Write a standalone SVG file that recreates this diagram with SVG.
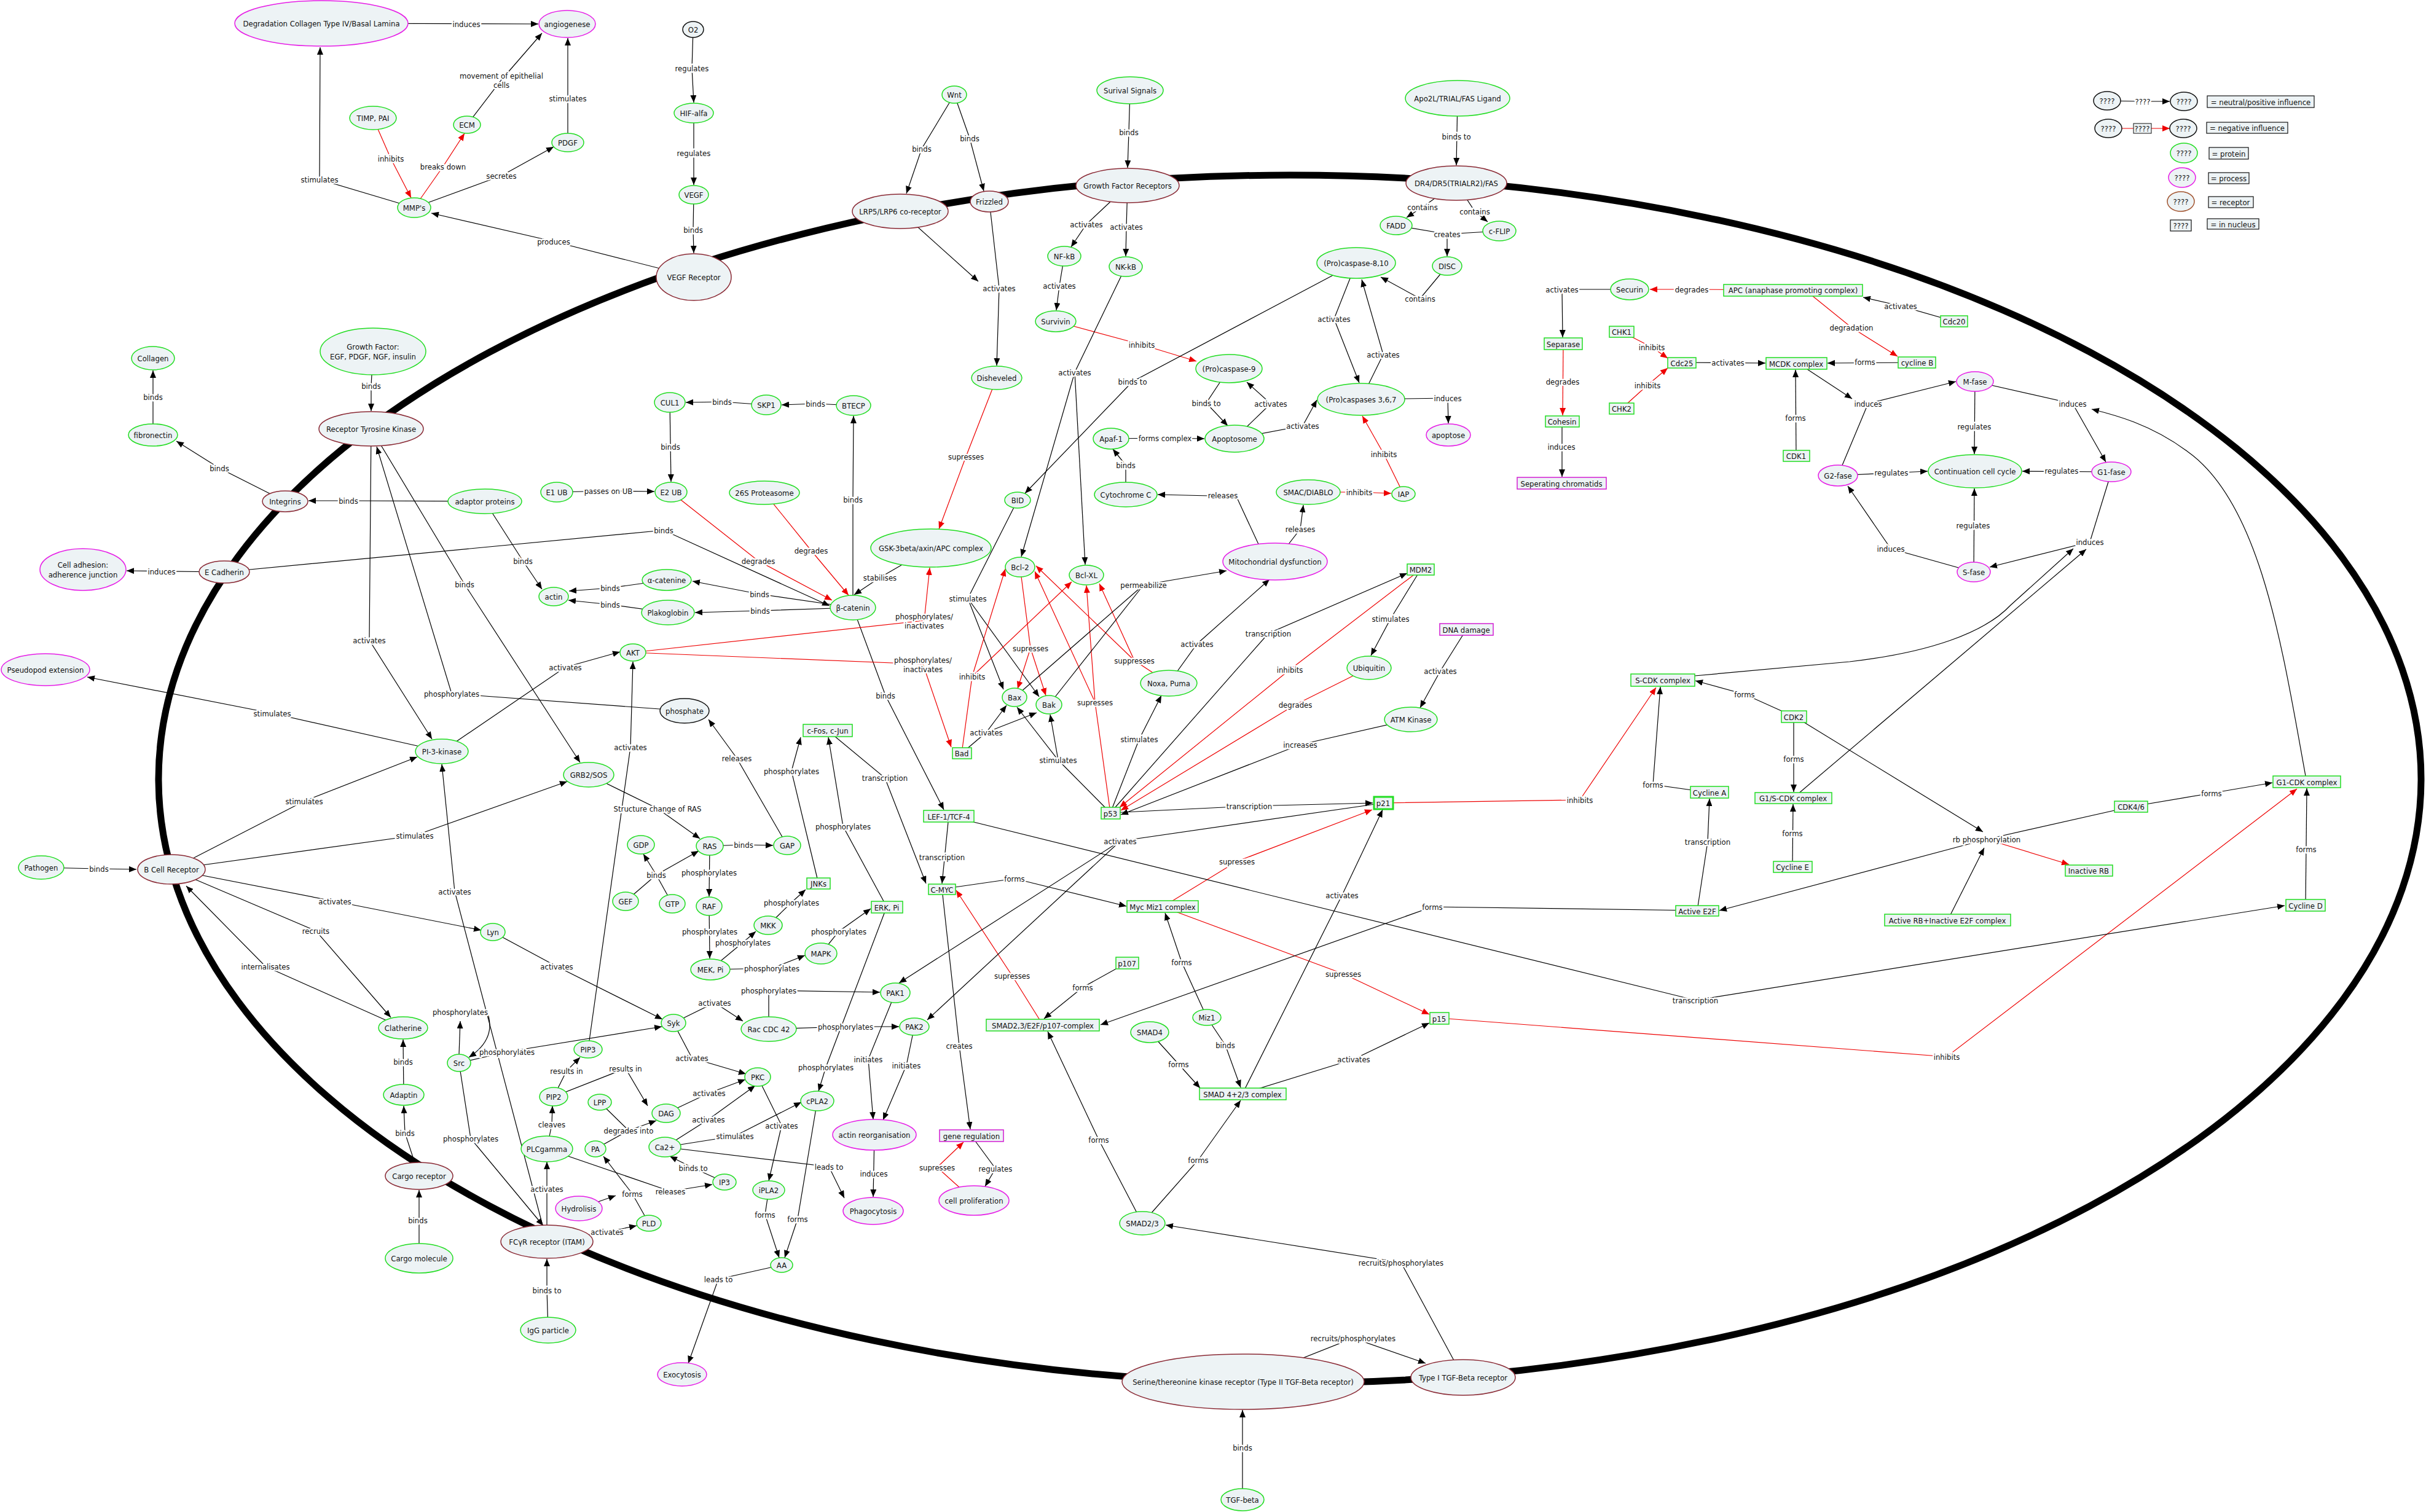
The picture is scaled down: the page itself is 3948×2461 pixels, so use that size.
<svg xmlns="http://www.w3.org/2000/svg" width="3948" height="2461" viewBox="0 0 3948 2461">
<style>
.c{fill:none;stroke:#000;stroke-width:1.2}
.ca{fill:none;stroke:#000;stroke-width:1.2;marker-end:url(#a)}
.r{fill:none;stroke:#e00;stroke-width:1.2}
.ra{fill:none;stroke:#e00;stroke-width:1.2;marker-end:url(#ar)}
.l,.t{font-family:'DejaVu Sans Condensed','DejaVu Sans',sans-serif;font-size:13px;text-anchor:middle;dominant-baseline:central;fill:#111}
.l{stroke:#fff;stroke-width:5px;paint-order:stroke;stroke-linejoin:round}
.g{fill:#edf3f5;stroke:#22dd22;stroke-width:1.5}
.m{fill:#edf3f5;stroke:#e61ee6;stroke-width:1.5}
.p{fill:#edf3f5;stroke:#8a2a35;stroke-width:1.5}
.k{fill:#edf3f5;stroke:#111;stroke-width:1.5}
.n{fill:#edf3f5;stroke:#22dd22;stroke-width:1.5}
.nm{fill:#edf3f5;stroke:#d21ed2;stroke-width:1.5}
.lg{fill:#edf3f5;stroke:#111;stroke-width:1.2}
</style>
<defs>
<marker id="a" viewBox="0 0 12 10" refX="12" refY="5" markerWidth="12" markerHeight="10" markerUnits="userSpaceOnUse" orient="auto"><path d="M0,0 L12,5 L0,10 z" fill="#000"/></marker>
<marker id="ar" viewBox="0 0 12 10" refX="12" refY="5" markerWidth="12" markerHeight="10" markerUnits="userSpaceOnUse" orient="auto"><path d="M0,0 L12,5 L0,10 z" fill="#e00"/></marker>
</defs>
<rect width="3948" height="2461" fill="#fff"/>
<g id="membrane"><ellipse cx="2099" cy="1268" rx="1841" ry="983" fill="none" stroke="#000" stroke-width="11"/></g>
<g id="connectors">
<path class="ca" d="M674,338 L520,292 L521,77"/>
<path class="ra" d="M607,192 L636,258 L669,322"/>
<path class="ra" d="M674,338 L721,271 L756,217"/>
<path class="ca" d="M674,338 L816,286 L901,239"/>
<path class="ca" d="M760,203 L816,130 L882,54"/>
<path class="ca" d="M924,232 L924,62"/>
<path class="ca" d="M523,38 L876,39"/>
<path class="ca" d="M1129,451 L901,393 L702,347"/>
<path class="ca" d="M1128,48 L1126,111 L1129,167"/>
<path class="ca" d="M1129,184 L1129,301"/>
<path class="ca" d="M1129,317 L1128,374 L1129,412"/>
<path class="ca" d="M1553,154 L1500,242 L1475,315"/>
<path class="ca" d="M1553,154 L1578,225 L1601,311"/>
<path class="ca" d="M1465,344 L1592,458"/>
<path class="ca" d="M1610,328 L1626,469 L1622,595"/>
<path class="ca" d="M1839,147 L1837,215 L1835,273"/>
<path class="ca" d="M1835,302 L1768,365 L1743,402"/>
<path class="ca" d="M1835,302 L1833,369 L1832,417"/>
<path class="ca" d="M1732,417 L1724,465 L1719,505"/>
<path class="ra" d="M1718,523 L1858,561 L1947,588"/>
<path class="ca" d="M1832,434 L1749,606 L1662,906"/>
<path class="ca" d="M1749,606 L1766,919"/>
<path class="ca" d="M2372,160 L2370,269"/>
<path class="ca" d="M2370,298 L2315,337 L2289,354"/>
<path class="ca" d="M2370,298 L2400,344 L2421,361"/>
<path class="c" d="M2272,367 L2355,381"/>
<path class="ca" d="M2440,376 L2355,381 L2355,417"/>
<path class="ca" d="M2355,433 L2311,486 L2247,451"/>
<path class="ca" d="M2207,428 L2171,519 L2212,623"/>
<path class="ca" d="M2215,650 L2251,577 L2216,455"/>
<path class="ca" d="M2215,650 L2356,648 L2357,689"/>
<path class="ra" d="M2284,804 L2252,739 L2217,677"/>
<path class="ra" d="M2129,801 L2212,801 L2264,803"/>
<path class="ca" d="M2207,428 L1843,621 L1668,803"/>
<path class="ca" d="M2000,600 L1963,656 L1998,693"/>
<path class="ca" d="M2009,714 L2068,657 L2029,622"/>
<path class="ca" d="M2009,714 L2120,693 L2143,651"/>
<path class="ca" d="M1808,714 L1896,713 L1960,714"/>
<path class="ca" d="M1832,805 L1832,757 L1811,731"/>
<path class="ca" d="M2050,890 L2012,808 L1884,805"/>
<path class="ca" d="M2075,914 L2116,861 L2121,822"/>
<path class="ra" d="M1622,615 L1572,743 L1528,861"/>
<path class="ca" d="M1515,892 L1432,940 L1390,968"/>
<path class="ra" d="M1092,801 L1234,913 L1354,977"/>
<path class="ra" d="M1244,802 L1320,896 L1381,969"/>
<path class="ca" d="M365,931 L1080,863 L1350,986"/>
<path class="ca" d="M1388,989 L1236,967 L1127,946"/>
<path class="ca" d="M1388,989 L1237,994 L1131,997"/>
<path class="ca" d="M1085,944 L993,957 L926,962"/>
<path class="ca" d="M1087,997 L993,984 L925,977"/>
<path class="ca" d="M789,816 L851,913 L882,959"/>
<path class="ca" d="M789,816 L567,815 L502,815"/>
<path class="ca" d="M464,816 L357,762 L287,718"/>
<path class="ca" d="M249,708 L249,603"/>
<path class="ca" d="M607,572 L604,628 L604,669"/>
<path class="ca" d="M604,698 L601,1042 L703,1203"/>
<path class="ca" d="M1114,1157 L735,1129 L613,727"/>
<path class="ca" d="M604,698 L756,951 L944,1241"/>
<path class="ca" d="M365,931 L206,929"/>
<path class="ca" d="M719,1223 L443,1161 L142,1102"/>
<path class="ca" d="M719,1223 L920,1086 L1009,1061"/>
<path class="ca" d="M279,1415 L495,1304 L679,1232"/>
<path class="ca" d="M279,1415 L675,1360 L923,1272"/>
<path class="ca" d="M67,1412 L161,1414 L222,1415"/>
<path class="ca" d="M279,1415 L545,1467 L783,1514"/>
<path class="ca" d="M279,1415 L514,1515 L636,1656"/>
<path class="ca" d="M656,1673 L432,1573 L303,1442"/>
<path class="ca" d="M802,1517 L906,1573 L1078,1659"/>
<path class="ca" d="M957,1708 L1026,1216 L1030,1077"/>
<path class="ca" d="M747,1730 L825,1712 L1077,1671"/>
<path class="ca" d="M747,1716 L749,1662"/>
<path class="ca" d="M792,1645 Q810,1690 763,1721"/>
<path class="ca" d="M747,1730 L766,1853 L884,1995"/>
<path class="ca" d="M890,2021 L740,1451 L719,1244"/>
<path class="ca" d="M890,2021 L890,1891"/>
<path class="ca" d="M890,1870 L898,1830 L899,1800"/>
<path class="ca" d="M901,1785 L922,1743 L944,1721"/>
<path class="ca" d="M901,1785 L1018,1739 L1054,1800"/>
<path class="ca" d="M682,2048 L682,1937"/>
<path class="ca" d="M682,1914 L659,1844 L657,1800"/>
<path class="ca" d="M657,1782 L656,1692"/>
<path class="ca" d="M892,2165 L890,2100 L890,2049"/>
<path class="ca" d="M890,2021 L988,2005 L1036,1995"/>
<path class="ca" d="M1056,1991 L1029,1943 L982,1882"/>
<path class="ca" d="M942,1967 L1002,1946"/>
<path class="c" d="M976,1794 L1023,1840"/>
<path class="c" d="M969,1870 L1023,1840"/>
<path class="ca" d="M1023,1840 L1068,1824"/>
<path class="ca" d="M890,1870 L1091,1939 L1159,1928"/>
<path class="ca" d="M1179,1924 L1128,1901 L1090,1882"/>
<path class="ca" d="M1084,1812 L1154,1779 L1213,1757"/>
<path class="ca" d="M1082,1867 L1153,1822 L1229,1767"/>
<path class="ca" d="M1082,1867 L1196,1849 L1304,1794"/>
<path class="ca" d="M1233,1753 L1272,1832 L1251,1922"/>
<path class="ca" d="M1082,1867 L1349,1899 L1374,1950"/>
<path class="ca" d="M1251,1937 L1245,1977 L1268,2047"/>
<path class="ca" d="M1330,1792 L1298,1984 L1277,2047"/>
<path class="ca" d="M1272,2059 L1169,2082 L1120,2219"/>
<path class="ca" d="M1096,1665 L1126,1722 L1214,1748"/>
<path class="ca" d="M1096,1665 L1163,1632 L1209,1662"/>
<path class="ca" d="M1251,1675 L1251,1612 L1432,1615"/>
<path class="ca" d="M1251,1675 L1376,1671 L1463,1671"/>
<path class="ca" d="M1443,1476 L1344,1737 L1332,1776"/>
<path class="ca" d="M1457,1616 L1413,1724 L1421,1822"/>
<path class="ca" d="M1488,1671 L1475,1734 L1437,1823"/>
<path class="ca" d="M1423,1847 L1421,1948"/>
<path class="ca" d="M1533,1447 L1561,1702 L1579,1838"/>
<path class="ra" d="M1585,1954 L1525,1900 L1568,1859"/>
<path class="ca" d="M1581,1849 L1620,1902 L1603,1931"/>
<path class="ca" d="M958,1261 L1070,1316 L1139,1365"/>
<path class="ca" d="M1155,1377 L1210,1375 L1258,1376"/>
<path class="ca" d="M1281,1376 L1199,1234 L1153,1171"/>
<path class="c" d="M1018,1467 L1068,1424"/>
<path class="c" d="M1094,1471 L1068,1424"/>
<path class="ca" d="M1068,1424 L1047,1390"/>
<path class="ca" d="M1068,1424 L1137,1385"/>
<path class="ca" d="M1155,1377 L1154,1459"/>
<path class="ca" d="M1154,1475 L1155,1560"/>
<path class="ca" d="M1156,1578 L1209,1534 L1230,1516"/>
<path class="ca" d="M1250,1506 L1288,1469 L1311,1448"/>
<path class="ca" d="M1156,1578 L1256,1576 L1310,1555"/>
<path class="ca" d="M1336,1552 L1365,1516 L1417,1479"/>
<path class="ca" d="M1332,1438 L1288,1255 L1303,1200"/>
<path class="ca" d="M1443,1476 L1372,1345 L1348,1200"/>
<path class="ca" d="M1347,1189 L1440,1266 L1507,1438"/>
<path class="ca" d="M1388,989 L1441,1132 L1536,1318"/>
<path class="ca" d="M1544,1328 L1533,1438"/>
<path class="ca" d="M1533,1447 L1651,1430 L1833,1475"/>
<path class="ca" d="M1964,1656 L1923,1566 L1896,1486"/>
<path class="ca" d="M1834,1567 L1762,1607 L1699,1658"/>
<path class="ra" d="M1697,1668 L1647,1588 L1556,1449"/>
<path class="ra" d="M1030,1062 L1504,1010 L1513,924"/>
<path class="ra" d="M1030,1062 L1502,1081 L1548,1216"/>
<path class="ca" d="M1656,814 L1575,974 L1633,1122"/>
<path class="ca" d="M1575,974 L1691,1134"/>
<path class="ra" d="M1660,923 L1677,1055 L1656,1121"/>
<path class="ra" d="M1677,1055 L1702,1132"/>
<path class="ra" d="M1565,1226 L1582,1101 L1636,926"/>
<path class="ra" d="M1582,1101 L1744,947"/>
<path class="ca" d="M1565,1226 L1605,1192 L1638,1148"/>
<path class="ca" d="M1605,1192 L1687,1160"/>
<path class="ca" d="M1807,1323 L1722,1237 L1655,1151"/>
<path class="ca" d="M1722,1237 L1709,1163"/>
<path class="ra" d="M1807,1323 L1782,1143 L1768,953"/>
<path class="ra" d="M1782,1143 L1684,930"/>
<path class="ra" d="M1902,1112 L1846,1075 L1789,950"/>
<path class="ra" d="M1846,1075 L1686,921"/>
<path class="ca" d="M1807,1323 L1854,1203 L1890,1132"/>
<path class="c" d="M1651,1135 L1861,952"/>
<path class="c" d="M1707,1147 L1861,952"/>
<path class="ca" d="M1861,952 L1996,929"/>
<path class="ca" d="M1902,1112 L1948,1048 L2066,943"/>
<path class="ca" d="M1807,1323 L2064,1031 L2290,933"/>
<path class="ra" d="M2312,927 L2099,1090 L1822,1314"/>
<path class="ca" d="M2312,927 L2263,1007 L2231,1067"/>
<path class="ra" d="M2228,1087 L2108,1147 L1824,1319"/>
<path class="ca" d="M2386,1025 L2344,1092 L2311,1152"/>
<path class="ca" d="M2296,1171 L2116,1212 L1824,1326"/>
<path class="ca" d="M1807,1323 L2033,1312 L2234,1307"/>
<path class="ca" d="M2251,1307 L1823,1369 L1463,1600"/>
<path class="ca" d="M1823,1369 L1509,1660"/>
<path class="ra" d="M1892,1476 L2013,1402 L2233,1318"/>
<path class="ra" d="M1892,1476 L2186,1585 L2326,1651"/>
<path class="ca" d="M2022,1780 L2184,1457 L2250,1318"/>
<path class="ca" d="M2022,1780 L2203,1724 L2326,1665"/>
<path class="ra" d="M2342,1657 L3168,1720 L3738,1284"/>
<path class="ca" d="M1871,1680 L1918,1732 L1953,1771"/>
<path class="ca" d="M1859,1991 L1950,1888 L2019,1791"/>
<path class="ca" d="M1964,1656 L1994,1701 L2019,1770"/>
<path class="ca" d="M1859,1991 L1788,1855 L1705,1679"/>
<path class="ca" d="M2762,1482 L2331,1476 L1791,1668"/>
<path class="ca" d="M2023,2249 L2202,2178 L2320,2219"/>
<path class="ca" d="M2381,2242 L2280,2055 L1897,1994"/>
<path class="ca" d="M2022,2441 L2022,2295"/>
<path class="ca" d="M1544,1328 L2759,1628 L3718,1474"/>
<path class="ca" d="M2652,471 L2542,471 L2543,549"/>
<path class="ra" d="M2918,472 L2753,471 L2685,471"/>
<path class="ra" d="M2544,560 L2543,676"/>
<path class="ca" d="M2542,686 L2542,776"/>
<path class="ra" d="M2639,540 L2688,565 L2714,583"/>
<path class="ra" d="M2639,665 L2681,627 L2714,599"/>
<path class="ca" d="M2737,590 L2873,591"/>
<path class="ca" d="M2923,742 L2922,602"/>
<path class="ca" d="M3120,590 L2974,591"/>
<path class="ca" d="M3180,523 L3093,498 L3032,484"/>
<path class="ra" d="M2950,482 L3013,533 L3088,580"/>
<path class="ca" d="M2941,601 L3014,649"/>
<path class="c" d="M2991,774 L3040,657"/>
<path class="ca" d="M3040,657 L3183,621"/>
<path class="ca" d="M3214,621 L3213,739"/>
<path class="ca" d="M3214,621 L3373,657 L3427,752"/>
<path class="ca" d="M3752,1263 C3715,1060 3680,820 3560,735 C3500,690 3440,675 3404,666"/>
<path class="ca" d="M2991,774 L3137,767"/>
<path class="ca" d="M3436,768 L3291,767"/>
<path class="ca" d="M3212,931 L3213,795"/>
<path class="ca" d="M3212,931 L3077,893 L3007,791"/>
<path class="ca" d="M3436,768 L3401,882 L3238,923"/>
<path class="ca" d="M2758,1100 L3010,1077 C3140,1062 3230,1030 3272,985 L3374,893"/>
<path class="ca" d="M2918,1299 L3395,894"/>
<path class="ca" d="M2919,1166 L2839,1130 L2759,1108"/>
<path class="ca" d="M2919,1166 L2919,1289"/>
<path class="ca" d="M2917,1411 L2918,1309"/>
<path class="ca" d="M2782,1290 L2690,1277 L2702,1118"/>
<path class="ra" d="M2251,1307 L2571,1302 L2695,1119"/>
<path class="ca" d="M2762,1482 L2779,1370 L2782,1300"/>
<path class="ca" d="M2920,1166 L3227,1354"/>
<path class="ca" d="M3170,1497 L3229,1380"/>
<path class="c" d="M3468,1313 L3233,1366"/>
<path class="ra" d="M3233,1366 L3367,1407"/>
<path class="ca" d="M3233,1366 L2798,1482"/>
<path class="ca" d="M3468,1313 L3599,1291 L3698,1274"/>
<path class="ca" d="M3752,1474 L3754,1283"/>
<path class="ca" d="M906,801 L990,799 L1065,800"/>
<path class="ca" d="M1090,655 L1092,784"/>
<path class="ca" d="M1247,659 L1175,654 L1116,655"/>
<path class="ca" d="M1389,660 L1327,657 L1272,659"/>
<path class="ca" d="M1388,989 L1388,813 L1389,677"/>
<path class="c" d="M3429,164 L3487,165"/>
<path class="ca" d="M3487,165 L3531,165"/>
<path class="r" d="M3431,209 L3486,209"/>
<path class="ra" d="M3486,209 L3531,209"/>
</g>
<g id="labels">
<text class="l" x="520" y="292">stimulates</text>
<text class="l" x="636" y="258">inhibits</text>
<text class="l" x="721" y="271">breaks down</text>
<text class="l" x="816" y="286">secretes</text>
<text class="l" x="816" y="123">movement of epithelial</text>
<text class="l" x="816" y="138">cells</text>
<text class="l" x="924" y="160">stimulates</text>
<text class="l" x="759" y="39">induces</text>
<text class="l" x="901" y="393">produces</text>
<text class="l" x="1126" y="111">regulates</text>
<text class="l" x="1129" y="249">regulates</text>
<text class="l" x="1128" y="374">binds</text>
<text class="l" x="1500" y="242">binds</text>
<text class="l" x="1578" y="225">binds</text>
<text class="l" x="1626" y="469">activates</text>
<text class="l" x="1837" y="215">binds</text>
<text class="l" x="1768" y="365">activates</text>
<text class="l" x="1833" y="369">activates</text>
<text class="l" x="1724" y="465">activates</text>
<text class="l" x="1858" y="561">inhibits</text>
<text class="l" x="1749" y="606">activates</text>
<text class="l" x="2370" y="222">binds to</text>
<text class="l" x="2315" y="337">contains</text>
<text class="l" x="2400" y="344">contains</text>
<text class="l" x="2355" y="381">creates</text>
<text class="l" x="2311" y="486">contains</text>
<text class="l" x="2171" y="519">activates</text>
<text class="l" x="2251" y="577">activates</text>
<text class="l" x="2356" y="648">induces</text>
<text class="l" x="2252" y="739">inhibits</text>
<text class="l" x="2212" y="801">inhibits</text>
<text class="l" x="1843" y="621">binds to</text>
<text class="l" x="1963" y="656">binds to</text>
<text class="l" x="2068" y="657">activates</text>
<text class="l" x="2120" y="693">activates</text>
<text class="l" x="1896" y="713">forms complex</text>
<text class="l" x="1832" y="757">binds</text>
<text class="l" x="1990" y="806">releases</text>
<text class="l" x="2116" y="861">releases</text>
<text class="l" x="1572" y="743">supresses</text>
<text class="l" x="1432" y="940">stabilises</text>
<text class="l" x="1234" y="913">degrades</text>
<text class="l" x="1320" y="896">degrades</text>
<text class="l" x="1080" y="863">binds</text>
<text class="l" x="1236" y="967">binds</text>
<text class="l" x="1237" y="994">binds</text>
<text class="l" x="993" y="957">binds</text>
<text class="l" x="993" y="984">binds</text>
<text class="l" x="851" y="913">binds</text>
<text class="l" x="567" y="815">binds</text>
<text class="l" x="357" y="762">binds</text>
<text class="l" x="249" y="646">binds</text>
<text class="l" x="604" y="628">binds</text>
<text class="l" x="601" y="1042">activates</text>
<text class="l" x="735" y="1129">phosphorylates</text>
<text class="l" x="756" y="951">binds</text>
<text class="l" x="263" y="930">induces</text>
<text class="l" x="443" y="1161">stimulates</text>
<text class="l" x="920" y="1086">activates</text>
<text class="l" x="495" y="1304">stimulates</text>
<text class="l" x="675" y="1360">stimulates</text>
<text class="l" x="161" y="1414">binds</text>
<text class="l" x="545" y="1467">activates</text>
<text class="l" x="514" y="1515">recruits</text>
<text class="l" x="432" y="1573">internalisates</text>
<text class="l" x="906" y="1573">activates</text>
<text class="l" x="1026" y="1216">activates</text>
<text class="l" x="825" y="1712">phosphorylates</text>
<text class="l" x="749" y="1647">phosphorylates</text>
<text class="l" x="766" y="1853">phosphorylates</text>
<text class="l" x="740" y="1451">activates</text>
<text class="l" x="890" y="1935">activates</text>
<text class="l" x="898" y="1830">cleaves</text>
<text class="l" x="922" y="1743">results in</text>
<text class="l" x="1018" y="1739">results in</text>
<text class="l" x="680" y="1986">binds</text>
<text class="l" x="659" y="1844">binds</text>
<text class="l" x="656" y="1728">binds</text>
<text class="l" x="890" y="2100">binds to</text>
<text class="l" x="988" y="2005">activates</text>
<text class="l" x="1029" y="1943">forms</text>
<text class="l" x="1023" y="1840">degrades into</text>
<text class="l" x="1091" y="1939">releases</text>
<text class="l" x="1128" y="1901">binds to</text>
<text class="l" x="1154" y="1779">activates</text>
<text class="l" x="1153" y="1822">activates</text>
<text class="l" x="1196" y="1849">stimulates</text>
<text class="l" x="1272" y="1832">activates</text>
<text class="l" x="1349" y="1899">leads to</text>
<text class="l" x="1245" y="1977">forms</text>
<text class="l" x="1298" y="1984">forms</text>
<text class="l" x="1169" y="2082">leads to</text>
<text class="l" x="1126" y="1722">activates</text>
<text class="l" x="1163" y="1632">activates</text>
<text class="l" x="1251" y="1612">phosphorylates</text>
<text class="l" x="1376" y="1671">phosphorylates</text>
<text class="l" x="1344" y="1737">phosphorylates</text>
<text class="l" x="1413" y="1724">initiates</text>
<text class="l" x="1475" y="1734">initiates</text>
<text class="l" x="1422" y="1910">induces</text>
<text class="l" x="1561" y="1702">creates</text>
<text class="l" x="1525" y="1900">supresses</text>
<text class="l" x="1620" y="1902">regulates</text>
<text class="l" x="1070" y="1316">Structure change of RAS</text>
<text class="l" x="1210" y="1375">binds</text>
<text class="l" x="1199" y="1234">releases</text>
<text class="l" x="1068" y="1424">binds</text>
<text class="l" x="1154" y="1420">phosphorylates</text>
<text class="l" x="1155" y="1516">phosphorylates</text>
<text class="l" x="1209" y="1534">phosphorylates</text>
<text class="l" x="1288" y="1469">phosphorylates</text>
<text class="l" x="1256" y="1576">phosphorylates</text>
<text class="l" x="1365" y="1516">phosphorylates</text>
<text class="l" x="1288" y="1255">phosphorylates</text>
<text class="l" x="1372" y="1345">phosphorylates</text>
<text class="l" x="1440" y="1266">transcription</text>
<text class="l" x="1441" y="1132">binds</text>
<text class="l" x="1533" y="1395">transcription</text>
<text class="l" x="1651" y="1430">forms</text>
<text class="l" x="1923" y="1566">forms</text>
<text class="l" x="1762" y="1607">forms</text>
<text class="l" x="1647" y="1588">supresses</text>
<text class="l" x="1504" y="1003">phosphorylates/</text>
<text class="l" x="1504" y="1018">inactivates</text>
<text class="l" x="1502" y="1074">phosphorylates/</text>
<text class="l" x="1502" y="1089">inactivates</text>
<text class="l" x="1575" y="974">stimulates</text>
<text class="l" x="1677" y="1055">supresses</text>
<text class="l" x="1582" y="1101">inhibits</text>
<text class="l" x="1605" y="1192">activates</text>
<text class="l" x="1722" y="1237">stimulates</text>
<text class="l" x="1782" y="1143">supresses</text>
<text class="l" x="1846" y="1075">suppresses</text>
<text class="l" x="1854" y="1203">stimulates</text>
<text class="l" x="1861" y="952">permeabilize</text>
<text class="l" x="1948" y="1048">activates</text>
<text class="l" x="2064" y="1031">transcription</text>
<text class="l" x="2099" y="1090">inhibits</text>
<text class="l" x="2263" y="1007">stimulates</text>
<text class="l" x="2108" y="1147">degrades</text>
<text class="l" x="2344" y="1092">activates</text>
<text class="l" x="2116" y="1212">increases</text>
<text class="l" x="2033" y="1312">transcription</text>
<text class="l" x="1823" y="1369">activates</text>
<text class="l" x="2013" y="1402">supresses</text>
<text class="l" x="2186" y="1585">supresses</text>
<text class="l" x="2184" y="1457">activates</text>
<text class="l" x="2203" y="1724">activates</text>
<text class="l" x="3168" y="1720">inhibits</text>
<text class="l" x="1918" y="1732">forms</text>
<text class="l" x="1950" y="1888">forms</text>
<text class="l" x="1994" y="1701">binds</text>
<text class="l" x="1788" y="1855">forms</text>
<text class="l" x="2331" y="1476">forms</text>
<text class="l" x="2202" y="2178">recruits/phosphorylates</text>
<text class="l" x="2280" y="2055">recruits/phosphorylates</text>
<text class="l" x="2022" y="2356">binds</text>
<text class="l" x="2759" y="1628">transcription</text>
<text class="l" x="2542" y="471">activates</text>
<text class="l" x="2753" y="471">degrades</text>
<text class="l" x="2543" y="621">degrades</text>
<text class="l" x="2541" y="727">induces</text>
<text class="l" x="2688" y="565">inhibits</text>
<text class="l" x="2681" y="627">inhibits</text>
<text class="l" x="2812" y="590">activates</text>
<text class="l" x="2922" y="680">forms</text>
<text class="l" x="3035" y="589">forms</text>
<text class="l" x="3093" y="498">activates</text>
<text class="l" x="3013" y="533">degradation</text>
<text class="l" x="3040" y="657">induces</text>
<text class="l" x="3213" y="694">regulates</text>
<text class="l" x="3373" y="657">induces</text>
<text class="l" x="3078" y="769">regulates</text>
<text class="l" x="3355" y="766">regulates</text>
<text class="l" x="3211" y="855">regulates</text>
<text class="l" x="3077" y="893">induces</text>
<text class="l" x="3401" y="882">induces</text>
<text class="l" x="2839" y="1130">forms</text>
<text class="l" x="2919" y="1235">forms</text>
<text class="l" x="2917" y="1356">forms</text>
<text class="l" x="2690" y="1277">forms</text>
<text class="l" x="2571" y="1302">inhibits</text>
<text class="l" x="2779" y="1370">transcription</text>
<text class="l" x="3233" y="1366">rb phosphorylation</text>
<text class="l" x="3599" y="1291">forms</text>
<text class="l" x="3753" y="1382">forms</text>
<text class="l" x="990" y="799">passes on UB</text>
<text class="l" x="1091" y="727">binds</text>
<text class="l" x="1175" y="654">binds</text>
<text class="l" x="1327" y="657">binds</text>
<text class="l" x="1388" y="813">binds</text>
<text class="l" x="3487" y="165">????</text>
</g>
<g id="n-degcol"><ellipse class="m" cx="523" cy="38" rx="141" ry="37"/><text class="t" x="523" y="38">Degradation Collagen Type IV/Basal Lamina</text></g>
<g id="n-angio"><ellipse class="m" cx="923" cy="39" rx="46" ry="22"/><text class="t" x="923" y="39">angiogenese</text></g>
<g id="n-timp"><ellipse class="g" cx="607" cy="192" rx="38" ry="19"/><text class="t" x="607" y="192">TIMP, PAI</text></g>
<g id="n-ecm"><ellipse class="g" cx="760" cy="203" rx="22" ry="14"/><text class="t" x="760" y="203">ECM</text></g>
<g id="n-pdgf"><ellipse class="g" cx="924" cy="232" rx="26" ry="15"/><text class="t" x="924" y="232">PDGF</text></g>
<g id="n-mmp"><ellipse class="g" cx="674" cy="338" rx="27" ry="16"/><text class="t" x="674" y="338">MMP's</text></g>
<g id="n-o2"><ellipse class="k" cx="1128" cy="48" rx="17" ry="13"/><text class="t" x="1128" y="48">O2</text></g>
<g id="n-hif"><ellipse class="g" cx="1129" cy="184" rx="32" ry="16"/><text class="t" x="1129" y="184">HIF-alfa</text></g>
<g id="n-vegf"><ellipse class="g" cx="1129" cy="317" rx="24" ry="15"/><text class="t" x="1129" y="317">VEGF</text></g>
<g id="n-vegfr"><ellipse class="p" cx="1129" cy="451" rx="61" ry="38"/><text class="t" x="1129" y="451">VEGF Receptor</text></g>
<g id="n-wnt"><ellipse class="g" cx="1553" cy="154" rx="20" ry="14"/><text class="t" x="1553" y="154">Wnt</text></g>
<g id="n-lrp"><ellipse class="p" cx="1465" cy="344" rx="78" ry="28"/><text class="t" x="1465" y="344">LRP5/LRP6 co-receptor</text></g>
<g id="n-frz"><ellipse class="p" cx="1610" cy="328" rx="31" ry="17"/><text class="t" x="1610" y="328">Frizzled</text></g>
<g id="n-surv"><ellipse class="g" cx="1839" cy="147" rx="54" ry="22"/><text class="t" x="1839" y="147">Surival Signals</text></g>
<g id="n-gfr"><ellipse class="p" cx="1835" cy="302" rx="84" ry="28"/><text class="t" x="1835" y="302">Growth Factor Receptors</text></g>
<g id="n-apo"><ellipse class="g" cx="2372" cy="160" rx="85" ry="29"/><text class="t" x="2372" y="160">Apo2L/TRIAL/FAS Ligand</text></g>
<g id="n-dr"><ellipse class="p" cx="2370" cy="298" rx="82" ry="28"/><text class="t" x="2370" y="298">DR4/DR5(TRIALR2)/FAS</text></g>
<g id="n-fadd"><ellipse class="g" cx="2272" cy="367" rx="26" ry="15"/><text class="t" x="2272" y="367">FADD</text></g>
<g id="n-cflip"><ellipse class="g" cx="2440" cy="376" rx="27" ry="16"/><text class="t" x="2440" y="376">c-FLIP</text></g>
<g id="n-disc"><ellipse class="g" cx="2355" cy="433" rx="24" ry="15"/><text class="t" x="2355" y="433">DISC</text></g>
<g id="n-casp810"><ellipse class="g" cx="2207" cy="428" rx="64" ry="25"/><text class="t" x="2207" y="428">(Pro)caspase-8,10</text></g>
<g id="n-casp367"><ellipse class="g" cx="2215" cy="650" rx="71" ry="26"/><text class="t" x="2215" y="650">(Pro)caspases 3,6,7</text></g>
<g id="n-apoptose"><ellipse class="m" cx="2357" cy="708" rx="36" ry="18"/><text class="t" x="2357" y="708">apoptose</text></g>
<g id="n-iap"><ellipse class="g" cx="2284" cy="804" rx="19" ry="12"/><text class="t" x="2284" y="804">IAP</text></g>
<g id="n-smac"><ellipse class="g" cx="2129" cy="801" rx="52" ry="20"/><text class="t" x="2129" y="801">SMAC/DIABLO</text></g>
<g id="n-nfkb"><ellipse class="g" cx="1732" cy="417" rx="27" ry="16"/><text class="t" x="1732" y="417">NF-kB</text></g>
<g id="n-nkkb"><ellipse class="g" cx="1832" cy="434" rx="27" ry="16"/><text class="t" x="1832" y="434">NK-kB</text></g>
<g id="n-survivin"><ellipse class="g" cx="1718" cy="523" rx="33" ry="17"/><text class="t" x="1718" y="523">Survivin</text></g>
<g id="n-casp9"><ellipse class="g" cx="2000" cy="600" rx="54" ry="23"/><text class="t" x="2000" y="600">(Pro)caspase-9</text></g>
<g id="n-apoptosome"><ellipse class="g" cx="2009" cy="714" rx="48" ry="22"/><text class="t" x="2009" y="714">Apoptosome</text></g>
<g id="n-apaf"><ellipse class="g" cx="1808" cy="714" rx="29" ry="17"/><text class="t" x="1808" y="714">Apaf-1</text></g>
<g id="n-cytc"><ellipse class="g" cx="1832" cy="805" rx="51" ry="20"/><text class="t" x="1832" y="805">Cytochrome C</text></g>
<g id="n-mito"><ellipse class="m" cx="2075" cy="914" rx="85" ry="30"/><text class="t" x="2075" y="914">Mitochondrial dysfunction</text></g>
<g id="n-dishev"><ellipse class="g" cx="1622" cy="615" rx="41" ry="19"/><text class="t" x="1622" y="615">Disheveled</text></g>
<g id="n-gsk"><ellipse class="g" cx="1515" cy="892" rx="98" ry="31"/><text class="t" x="1515" y="892">GSK-3beta/axin/APC complex</text></g>
<g id="n-bid"><ellipse class="g" cx="1656" cy="814" rx="21" ry="13"/><text class="t" x="1656" y="814">BID</text></g>
<g id="n-bcl2"><ellipse class="g" cx="1660" cy="923" rx="24" ry="16"/><text class="t" x="1660" y="923">Bcl-2</text></g>
<g id="n-bclxl"><ellipse class="g" cx="1768" cy="936" rx="28" ry="16"/><text class="t" x="1768" y="936">Bcl-XL</text></g>
<g id="n-bax"><ellipse class="g" cx="1651" cy="1135" rx="20" ry="15"/><text class="t" x="1651" y="1135">Bax</text></g>
<g id="n-bak"><ellipse class="g" cx="1707" cy="1147" rx="21" ry="15"/><text class="t" x="1707" y="1147">Bak</text></g>
<g id="n-noxa"><ellipse class="g" cx="1902" cy="1112" rx="46" ry="21"/><text class="t" x="1902" y="1112">Noxa, Puma</text></g>
<g id="n-ubiq"><ellipse class="g" cx="2228" cy="1087" rx="36" ry="19"/><text class="t" x="2228" y="1087">Ubiquitin</text></g>
<g id="n-atm"><ellipse class="g" cx="2296" cy="1171" rx="43" ry="20"/><text class="t" x="2296" y="1171">ATM Kinase</text></g>
<g id="n-securin"><ellipse class="g" cx="2652" cy="471" rx="31" ry="17"/><text class="t" x="2652" y="471">Securin</text></g>
<g id="n-mfase"><ellipse class="m" cx="3214" cy="621" rx="30" ry="16"/><text class="t" x="3214" y="621">M-fase</text></g>
<g id="n-g2fase"><ellipse class="m" cx="2991" cy="774" rx="32" ry="17"/><text class="t" x="2991" y="774">G2-fase</text></g>
<g id="n-g1fase"><ellipse class="m" cx="3436" cy="768" rx="32" ry="16"/><text class="t" x="3436" y="768">G1-fase</text></g>
<g id="n-sfase"><ellipse class="m" cx="3212" cy="931" rx="27" ry="16"/><text class="t" x="3212" y="931">S-fase</text></g>
<g id="n-contin"><ellipse class="g" cx="3214" cy="767" rx="76" ry="27"/><text class="t" x="3214" y="767">Continuation cell cycle</text></g>
<g id="n-collagen"><ellipse class="g" cx="249" cy="583" rx="35" ry="19"/><text class="t" x="249" y="583">Collagen</text></g>
<g id="n-fibro"><ellipse class="g" cx="249" cy="708" rx="40" ry="18"/><text class="t" x="249" y="708">fibronectin</text></g>
<g id="n-gf"><ellipse class="g" cx="607" cy="572" rx="86" ry="38"/><text class="t" x="607" y="564">Growth Factor:</text><text class="t" x="607" y="580">EGF, PDGF, NGF, insulin</text></g>
<g id="n-rtk"><ellipse class="p" cx="604" cy="698" rx="85" ry="28"/><text class="t" x="604" y="698">Receptor Tyrosine Kinase</text></g>
<g id="n-integrins"><ellipse class="p" cx="464" cy="816" rx="37" ry="17"/><text class="t" x="464" y="816">Integrins</text></g>
<g id="n-adaptor"><ellipse class="g" cx="789" cy="816" rx="60" ry="20"/><text class="t" x="789" y="816">adaptor proteins</text></g>
<g id="n-e1ub"><ellipse class="g" cx="906" cy="801" rx="26" ry="16"/><text class="t" x="906" y="801">E1 UB</text></g>
<g id="n-e2ub"><ellipse class="g" cx="1092" cy="801" rx="26" ry="16"/><text class="t" x="1092" y="801">E2 UB</text></g>
<g id="n-cul1"><ellipse class="g" cx="1090" cy="655" rx="25" ry="16"/><text class="t" x="1090" y="655">CUL1</text></g>
<g id="n-skp1"><ellipse class="g" cx="1247" cy="659" rx="24" ry="16"/><text class="t" x="1247" y="659">SKP1</text></g>
<g id="n-btecp"><ellipse class="g" cx="1389" cy="660" rx="28" ry="16"/><text class="t" x="1389" y="660">BTECP</text></g>
<g id="n-p26s"><ellipse class="g" cx="1244" cy="802" rx="57" ry="19"/><text class="t" x="1244" y="802">26S Proteasome</text></g>
<g id="n-actin"><ellipse class="g" cx="901" cy="971" rx="24" ry="15"/><text class="t" x="901" y="971">actin</text></g>
<g id="n-acat"><ellipse class="g" cx="1085" cy="944" rx="40" ry="17"/><text class="t" x="1085" y="944">α-catenine</text></g>
<g id="n-plako"><ellipse class="g" cx="1087" cy="997" rx="43" ry="20"/><text class="t" x="1087" y="997">Plakoglobin</text></g>
<g id="n-bcat"><ellipse class="g" cx="1388" cy="989" rx="37" ry="20"/><text class="t" x="1388" y="989">β-catenin</text></g>
<g id="n-ecad"><ellipse class="p" cx="365" cy="931" rx="41" ry="18"/><text class="t" x="365" y="931">E Cadherin</text></g>
<g id="n-celladh"><ellipse class="m" cx="135" cy="927" rx="70" ry="34"/><text class="t" x="135" y="919">Cell adhesion:</text><text class="t" x="135" y="935">adherence junction</text></g>
<g id="n-pseudo"><ellipse class="m" cx="74" cy="1090" rx="72" ry="26"/><text class="t" x="74" y="1090">Pseudopod extension</text></g>
<g id="n-akt"><ellipse class="g" cx="1030" cy="1062" rx="21" ry="14"/><text class="t" x="1030" y="1062">AKT</text></g>
<g id="n-pi3k"><ellipse class="g" cx="719" cy="1223" rx="43" ry="20"/><text class="t" x="719" y="1223">PI-3-kinase</text></g>
<g id="n-phosphate"><ellipse class="k" cx="1114" cy="1157" rx="40" ry="20"/><text class="t" x="1114" y="1157">phosphate</text></g>
<g id="n-grb2"><ellipse class="g" cx="958" cy="1261" rx="41" ry="20"/><text class="t" x="958" y="1261">GRB2/SOS</text></g>
<g id="n-gdp"><ellipse class="g" cx="1043" cy="1375" rx="22" ry="15"/><text class="t" x="1043" y="1375">GDP</text></g>
<g id="n-ras"><ellipse class="g" cx="1155" cy="1377" rx="22" ry="15"/><text class="t" x="1155" y="1377">RAS</text></g>
<g id="n-gap"><ellipse class="g" cx="1281" cy="1376" rx="22" ry="15"/><text class="t" x="1281" y="1376">GAP</text></g>
<g id="n-gef"><ellipse class="g" cx="1018" cy="1467" rx="21" ry="15"/><text class="t" x="1018" y="1467">GEF</text></g>
<g id="n-gtp"><ellipse class="g" cx="1094" cy="1471" rx="21" ry="15"/><text class="t" x="1094" y="1471">GTP</text></g>
<g id="n-raf"><ellipse class="g" cx="1154" cy="1475" rx="21" ry="15"/><text class="t" x="1154" y="1475">RAF</text></g>
<g id="n-mek"><ellipse class="g" cx="1156" cy="1578" rx="32" ry="17"/><text class="t" x="1156" y="1578">MEK, Pi</text></g>
<g id="n-mkk"><ellipse class="g" cx="1250" cy="1506" rx="23" ry="15"/><text class="t" x="1250" y="1506">MKK</text></g>
<g id="n-mapk"><ellipse class="g" cx="1336" cy="1552" rx="26" ry="17"/><text class="t" x="1336" y="1552">MAPK</text></g>
<g id="n-pak1"><ellipse class="g" cx="1457" cy="1616" rx="24" ry="16"/><text class="t" x="1457" y="1616">PAK1</text></g>
<g id="n-pathogen"><ellipse class="g" cx="67" cy="1412" rx="37" ry="19"/><text class="t" x="67" y="1412">Pathogen</text></g>
<g id="n-bcr"><ellipse class="p" cx="279" cy="1415" rx="55" ry="24"/><text class="t" x="279" y="1415">B Cell Receptor</text></g>
<g id="n-lyn"><ellipse class="g" cx="802" cy="1517" rx="20" ry="14"/><text class="t" x="802" y="1517">Lyn</text></g>
<g id="n-syk"><ellipse class="g" cx="1096" cy="1665" rx="20" ry="14"/><text class="t" x="1096" y="1665">Syk</text></g>
<g id="n-rac"><ellipse class="g" cx="1251" cy="1675" rx="45" ry="20"/><text class="t" x="1251" y="1675">Rac CDC 42</text></g>
<g id="n-pak2"><ellipse class="g" cx="1488" cy="1671" rx="24" ry="14"/><text class="t" x="1488" y="1671">PAK2</text></g>
<g id="n-clath"><ellipse class="g" cx="656" cy="1673" rx="40" ry="18"/><text class="t" x="656" y="1673">Clatherine</text></g>
<g id="n-adaptin"><ellipse class="g" cx="657" cy="1782" rx="33" ry="17"/><text class="t" x="657" y="1782">Adaptin</text></g>
<g id="n-cargor"><ellipse class="p" cx="682" cy="1914" rx="55" ry="22"/><text class="t" x="682" y="1914">Cargo receptor</text></g>
<g id="n-cargom"><ellipse class="g" cx="682" cy="2048" rx="55" ry="24"/><text class="t" x="682" y="2048">Cargo molecule</text></g>
<g id="n-fcgr"><ellipse class="p" cx="890" cy="2021" rx="75" ry="27"/><text class="t" x="890" y="2021">FCγR receptor (ITAM)</text></g>
<g id="n-igg"><ellipse class="g" cx="892" cy="2165" rx="45" ry="21"/><text class="t" x="892" y="2165">IgG particle</text></g>
<g id="n-plcg"><ellipse class="g" cx="890" cy="1870" rx="42" ry="21"/><text class="t" x="890" y="1870">PLCgamma</text></g>
<g id="n-pip2"><ellipse class="g" cx="901" cy="1785" rx="23" ry="15"/><text class="t" x="901" y="1785">PIP2</text></g>
<g id="n-pip3"><ellipse class="g" cx="957" cy="1708" rx="23" ry="14"/><text class="t" x="957" y="1708">PIP3</text></g>
<g id="n-src"><ellipse class="g" cx="747" cy="1730" rx="19" ry="14"/><text class="t" x="747" y="1730">Src</text></g>
<g id="n-hydro"><ellipse class="m" cx="942" cy="1967" rx="38" ry="20"/><text class="t" x="942" y="1967">Hydrolisis</text></g>
<g id="n-lpp"><ellipse class="g" cx="976" cy="1794" rx="19" ry="13"/><text class="t" x="976" y="1794">LPP</text></g>
<g id="n-pa"><ellipse class="g" cx="969" cy="1870" rx="17" ry="13"/><text class="t" x="969" y="1870">PA</text></g>
<g id="n-pld"><ellipse class="g" cx="1056" cy="1991" rx="20" ry="13"/><text class="t" x="1056" y="1991">PLD</text></g>
<g id="n-ip3"><ellipse class="g" cx="1179" cy="1924" rx="19" ry="13"/><text class="t" x="1179" y="1924">IP3</text></g>
<g id="n-ca"><ellipse class="g" cx="1082" cy="1867" rx="26" ry="16"/><text class="t" x="1082" y="1867">Ca2+</text></g>
<g id="n-dag"><ellipse class="g" cx="1084" cy="1812" rx="23" ry="15"/><text class="t" x="1084" y="1812">DAG</text></g>
<g id="n-pkc"><ellipse class="g" cx="1233" cy="1753" rx="21" ry="15"/><text class="t" x="1233" y="1753">PKC</text></g>
<g id="n-cpla2"><ellipse class="g" cx="1330" cy="1792" rx="27" ry="16"/><text class="t" x="1330" y="1792">cPLA2</text></g>
<g id="n-ipla2"><ellipse class="g" cx="1251" cy="1937" rx="26" ry="15"/><text class="t" x="1251" y="1937">iPLA2</text></g>
<g id="n-aa"><ellipse class="g" cx="1272" cy="2059" rx="18" ry="12"/><text class="t" x="1272" y="2059">AA</text></g>
<g id="n-exo"><ellipse class="m" cx="1110" cy="2237" rx="40" ry="19"/><text class="t" x="1110" y="2237">Exocytosis</text></g>
<g id="n-actreorg"><ellipse class="m" cx="1423" cy="1847" rx="68" ry="25"/><text class="t" x="1423" y="1847">actin reorganisation</text></g>
<g id="n-phago"><ellipse class="m" cx="1421" cy="1971" rx="49" ry="22"/><text class="t" x="1421" y="1971">Phagocytosis</text></g>
<g id="n-cellprol"><ellipse class="m" cx="1585" cy="1954" rx="57" ry="24"/><text class="t" x="1585" y="1954">cell proliferation</text></g>
<g id="n-smad23"><ellipse class="g" cx="1859" cy="1991" rx="37" ry="19"/><text class="t" x="1859" y="1991">SMAD2/3</text></g>
<g id="n-smad4"><ellipse class="g" cx="1871" cy="1680" rx="31" ry="17"/><text class="t" x="1871" y="1680">SMAD4</text></g>
<g id="n-miz1"><ellipse class="g" cx="1964" cy="1656" rx="23" ry="13"/><text class="t" x="1964" y="1656">Miz1</text></g>
<g id="n-typeii"><ellipse class="p" cx="2023" cy="2249" rx="197" ry="45"/><text class="t" x="2023" y="2249">Serine/thereonine kinase receptor (Type II TGF-Beta receptor)</text></g>
<g id="n-tgfb"><ellipse class="g" cx="2022" cy="2441" rx="35" ry="18"/><text class="t" x="2022" y="2441">TGF-beta</text></g>
<g id="n-typei"><ellipse class="p" cx="2381" cy="2242" rx="85" ry="29"/><text class="t" x="2381" y="2242">Type I TGF-Beta receptor</text></g>
<g id="n-apc"><rect class="n" x="2805" y="463" width="226" height="19"/><text class="t" x="2918" y="472">APC (anaphase promoting complex)</text></g>
<g id="n-cdc20"><rect class="n" x="3158" y="514" width="44" height="18"/><text class="t" x="3180" y="523">Cdc20</text></g>
<g id="n-cyclb"><rect class="n" x="3089" y="581" width="61" height="18"/><text class="t" x="3120" y="590">cycline B</text></g>
<g id="n-separase"><rect class="n" x="2513" y="550" width="62" height="19"/><text class="t" x="2544" y="560">Separase</text></g>
<g id="n-cohesin"><rect class="n" x="2515" y="677" width="55" height="18"/><text class="t" x="2542" y="686">Cohesin</text></g>
<g id="n-sepchrom"><rect class="nm" x="2469" y="777" width="145" height="19"/><text class="t" x="2541" y="787">Seperating chromatids</text></g>
<g id="n-chk1"><rect class="n" x="2619" y="531" width="40" height="18"/><text class="t" x="2639" y="540">CHK1</text></g>
<g id="n-chk2"><rect class="n" x="2619" y="656" width="40" height="18"/><text class="t" x="2639" y="665">CHK2</text></g>
<g id="n-cdc25"><rect class="n" x="2714" y="582" width="46" height="17"/><text class="t" x="2737" y="591">Cdc25</text></g>
<g id="n-mcdk"><rect class="n" x="2874" y="582" width="99" height="19"/><text class="t" x="2923" y="592">MCDK complex</text></g>
<g id="n-cdk1"><rect class="n" x="2902" y="733" width="43" height="18"/><text class="t" x="2923" y="742">CDK1</text></g>
<g id="n-cfos"><rect class="n" x="1307" y="1179" width="80" height="20"/><text class="t" x="1347" y="1189">c-Fos, c-Jun</text></g>
<g id="n-lef"><rect class="n" x="1503" y="1319" width="82" height="19"/><text class="t" x="1544" y="1329">LEF-1/TCF-4</text></g>
<g id="n-cmyc"><rect class="n" x="1511" y="1439" width="44" height="17"/><text class="t" x="1533" y="1448">C-MYC</text></g>
<g id="n-jnks"><rect class="n" x="1313" y="1429" width="38" height="18"/><text class="t" x="1332" y="1438">JNKs</text></g>
<g id="n-erk"><rect class="n" x="1418" y="1467" width="51" height="19"/><text class="t" x="1443" y="1477">ERK, Pi</text></g>
<g id="n-bad"><rect class="n" x="1550" y="1217" width="31" height="18"/><text class="t" x="1565" y="1226">Bad</text></g>
<g id="n-p53"><rect class="n" x="1792" y="1314" width="31" height="19"/><text class="t" x="1807" y="1324">p53</text></g>
<g id="n-mycmiz"><rect class="n" x="1834" y="1466" width="116" height="19"/><text class="t" x="1892" y="1476">Myc Miz1 complex</text></g>
<g id="n-p107"><rect class="n" x="1816" y="1558" width="37" height="19"/><text class="t" x="1834" y="1568">p107</text></g>
<g id="n-mdm2"><rect class="n" x="2290" y="918" width="44" height="18"/><text class="t" x="2312" y="927">MDM2</text></g>
<g id="n-dnadmg"><rect class="nm" x="2343" y="1015" width="87" height="19"/><text class="t" x="2386" y="1025">DNA damage</text></g>
<g id="n-scdk"><rect class="n" x="2654" y="1097" width="104" height="20"/><text class="t" x="2706" y="1107">S-CDK complex</text></g>
<g id="n-cdk2"><rect class="n" x="2899" y="1157" width="41" height="19"/><text class="t" x="2919" y="1167">CDK2</text></g>
<g id="n-g1scdk"><rect class="n" x="2856" y="1290" width="125" height="18"/><text class="t" x="2918" y="1299">G1/S-CDK complex</text></g>
<g id="n-cyce"><rect class="n" x="2886" y="1402" width="63" height="18"/><text class="t" x="2917" y="1411">Cycline E</text></g>
<g id="n-cycla"><rect class="n" x="2751" y="1280" width="62" height="19"/><text class="t" x="2782" y="1290">Cycline A</text></g>
<g id="n-ae2f"><rect class="n" x="2727" y="1474" width="70" height="17"/><text class="t" x="2762" y="1483">Active E2F</text></g>
<g id="n-p21"><rect class="n" x="2236" y="1297" width="31" height="20" style="stroke-width:3"/><text class="t" x="2251" y="1307">p21</text></g>
<g id="n-g1cdk"><rect class="n" x="3699" y="1263" width="110" height="19"/><text class="t" x="3754" y="1273">G1-CDK complex</text></g>
<g id="n-cdk46"><rect class="n" x="3441" y="1304" width="54" height="18"/><text class="t" x="3468" y="1313">CDK4/6</text></g>
<g id="n-inrb"><rect class="n" x="3361" y="1408" width="77" height="18"/><text class="t" x="3399" y="1417">Inactive RB</text></g>
<g id="n-arb"><rect class="n" x="3067" y="1488" width="205" height="19"/><text class="t" x="3169" y="1498">Active RB+Inactive E2F complex</text></g>
<g id="n-cycd"><rect class="n" x="3720" y="1464" width="64" height="19"/><text class="t" x="3752" y="1474">Cycline D</text></g>
<g id="n-genereg"><rect class="nm" x="1529" y="1839" width="104" height="19"/><text class="t" x="1581" y="1849">gene regulation</text></g>
<g id="n-smadcomp"><rect class="n" x="1952" y="1771" width="141" height="19"/><text class="t" x="2022" y="1781">SMAD 4+2/3 complex</text></g>
<g id="n-smad23comp"><rect class="n" x="1605" y="1659" width="184" height="19"/><text class="t" x="1697" y="1669">SMAD2,3/E2F/p107-complex</text></g>
<g id="n-p15"><rect class="n" x="2327" y="1648" width="31" height="19"/><text class="t" x="2342" y="1658">p15</text></g>
<g id="legend">
<ellipse class="k" cx="3429" cy="164" rx="22" ry="15"/><text class="t" x="3429" y="164">????</text>
<ellipse class="k" cx="3554" cy="165" rx="22" ry="15"/><text class="t" x="3554" y="165">????</text>
<rect class="lg" x="3592" y="156" width="174" height="19"/><text class="t" x="3679" y="166">= neutral/positive influence</text>
<ellipse class="k" cx="3431" cy="209" rx="22" ry="15"/><text class="t" x="3431" y="209">????</text>
<rect x="3472" y="201" width="29" height="16" fill="#edf3f5" stroke="#111"/><text class="t" x="3486" y="209">????</text>
<ellipse class="k" cx="3553" cy="209" rx="22" ry="15"/><text class="t" x="3553" y="209">????</text>
<rect class="lg" x="3591" y="199" width="132" height="18"/><text class="t" x="3657" y="208">= negative influence</text>
<ellipse class="g" cx="3554" cy="249" rx="22" ry="16"/><text class="t" x="3554" y="249">????</text>
<rect class="lg" x="3595" y="240" width="64" height="19"/><text class="t" x="3627" y="250">= protein</text>
<ellipse class="m" cx="3551" cy="289" rx="22" ry="16"/><text class="t" x="3551" y="289">????</text>
<rect class="lg" x="3594" y="281" width="66" height="18"/><text class="t" x="3627" y="290">= process</text>
<ellipse class="p" cx="3549" cy="328" rx="22" ry="16" style="stroke:#a0522d"/><text class="t" x="3549" y="328">????</text>
<rect class="lg" x="3594" y="320" width="73" height="18"/><text class="t" x="3630" y="329">= receptor</text>
<rect class="lg" x="3532" y="358" width="34" height="18"/><text class="t" x="3549" y="367">????</text>
<rect class="lg" x="3592" y="356" width="84" height="17"/><text class="t" x="3634" y="365">= in nucleus</text>
</g>
</svg>
